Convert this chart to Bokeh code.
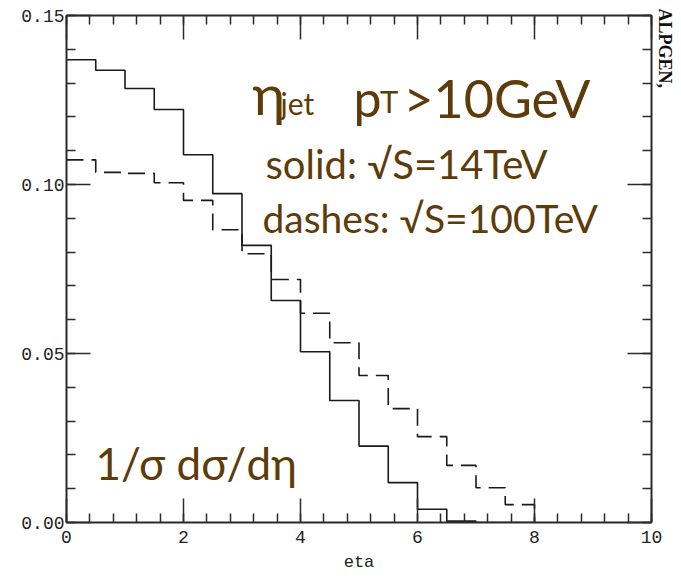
import math
from bokeh.plotting import figure
from bokeh.models import (Range1d, LinearAxis, FixedTicker, PrintfTickFormatter,
                          CustomJSTickFormatter, Label, Title)
from bokeh.embed import file_html
from bokeh.resources import INLINE

# ---- data ----
eta_edges = [0.0, 0.5, 1.0, 1.5, 2.0, 2.5, 3.0, 3.5, 4.0, 4.5, 5.0, 5.5, 6.0, 6.5, 7.0, 7.5, 8.0]
solid_14TeV = [0.1369, 0.1338, 0.1284, 0.1222, 0.1088, 0.0973, 0.0820, 0.0657,
               0.0505, 0.0361, 0.0226, 0.0118, 0.0039, 0.0004, 0.0, 0.0]
dashes_100TeV = [0.1073, 0.1036, 0.1033, 0.1005, 0.0953, 0.0866, 0.0795, 0.0719,
                 0.0619, 0.0532, 0.0435, 0.0337, 0.0254, 0.0169, 0.0103, 0.0053]
x_major_ticks = [0, 2, 4, 6, 8, 10]
x_minor_ticks = [round(0.4 * i, 2) for i in range(26)]
y_major_ticks = [0.0, 0.05, 0.10, 0.15]
y_minor_ticks = [round(0.01 * i, 2) for i in range(16)]
x_range = (0, 10)
y_range = (0, 0.15)

BROWN = "#5e3c0a"
AX = "#2a2a2a"
TICKFONT = "Liberation Mono"

p = figure(width=681, height=576, output_backend="svg", toolbar_location=None,
           x_range=Range1d(*x_range), y_range=Range1d(*y_range),
           min_border_left=66, min_border_right=30, min_border_top=15, min_border_bottom=54,
           x_axis_location=None, y_axis_location=None)
p.grid.visible = False
p.outline_line_color = None
p.background_fill_color = "white"
p.border_fill_color = "white"

xt = FixedTicker(ticks=x_major_ticks, minor_ticks=x_minor_ticks)
yt = FixedTicker(ticks=y_major_ticks, minor_ticks=y_minor_ticks)
blank = CustomJSTickFormatter(code="return ''")


def style(ax, labels=True):
    ax.axis_line_color = AX
    ax.axis_line_width = 2
    ax.major_tick_line_color = AX
    ax.minor_tick_line_color = AX
    ax.major_tick_line_width = 1.5
    ax.minor_tick_line_width = 1.5
    ax.major_tick_in = 24
    ax.major_tick_out = 0
    ax.minor_tick_in = 9
    ax.minor_tick_out = 0
    if labels:
        ax.major_label_text_font = TICKFONT
        ax.major_label_text_font_size = "18px"
        ax.major_label_text_color = "#222"
        ax.major_label_standoff = 8
    else:
        ax.formatter = blank
        ax.major_label_standoff = 0


bottom = LinearAxis(ticker=xt, axis_label="eta")
style(bottom)
bottom.axis_label_text_font = TICKFONT
bottom.axis_label_text_font_size = "17px"
bottom.axis_label_text_font_style = "normal"
bottom.axis_label_text_color = "#222"
bottom.axis_label_standoff = 7
p.add_layout(bottom, "below")

left = LinearAxis(ticker=yt, formatter=PrintfTickFormatter(format="%.2f"))
style(left)
left.major_label_standoff = 2
p.add_layout(left, "left")

top = LinearAxis(ticker=xt)
style(top, labels=False)
p.add_layout(top, "above")

right = LinearAxis(ticker=yt)
style(right, labels=False)
p.add_layout(right, "right")

# histograms drawn as steps
p.step(x=eta_edges, y=solid_14TeV + [0.0], mode="after",
       line_color="#1a1a1a", line_width=1.6)
p.step(x=eta_edges, y=dashes_100TeV + [0.0], mode="after",
       line_color="#1a1a1a", line_width=1.6, line_dash="17 8")

# annotations
FONT = "Lato"


def lab(text, x, y, size, **kw):
    L = Label(x=x, y=y, text=text, text_font=FONT, text_font_size=size,
              text_color=BROWN, text_baseline="alphabetic", text_align="left", **kw)
    p.add_layout(L)


lab("η", 3.18, 0.1269, "56px")
lab("jet", 3.66, 0.1240, "30px")
lab("p", 4.906, 0.1257, "50px")
lab("T", 5.36, 0.1248, "31px")
lab(">10GeV", 5.76, 0.1257, "52px")
lab("solid: √S=14TeV", 3.402, 0.1062, "40px")
lab("dashes: √S=100TeV", 3.350, 0.0902, "39px")
lab("1/σ dσ/dη", 0.496, 0.01775, "44px")

alp = Title(text="ALPGEN,", align="left", text_font="Liberation Serif",
            text_font_size="18px", text_font_style="bold", text_color="#111",
            offset=-7, standoff=7)
p.add_layout(alp, "right")

open("out.html", "w").write(file_html(p, INLINE))
